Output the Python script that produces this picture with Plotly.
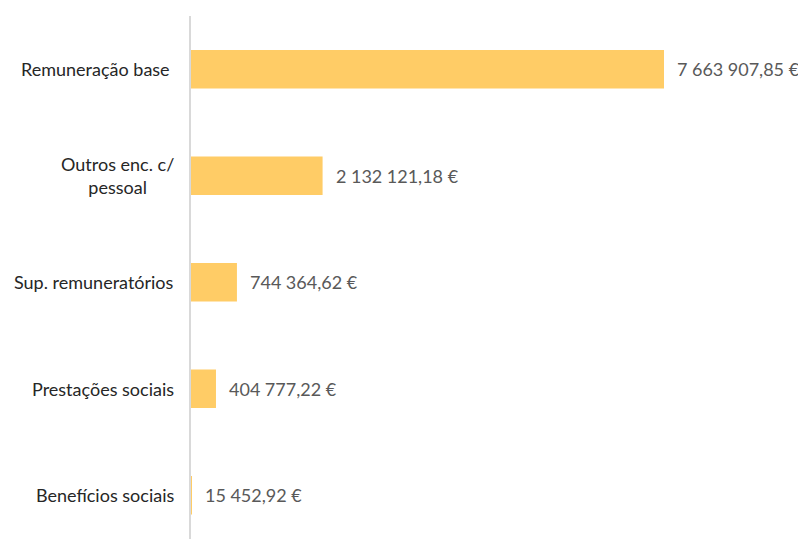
import plotly.graph_objects as go

# Personnel expense categories (top to bottom) and amounts in euros
categories = ["Remuneração base\u00a0", "Outros enc. c/<br>pessoal", "Sup. remuneratórios",
              "Prestações sociais", "Benefícios sociais"]
values = [7663907.85, 2132121.18, 744364.62, 404777.22, 15452.92]


def eur(v):
    whole, dec = f"{v:,.2f}".split(".")
    return whole.replace(",", "\u202f") + "," + dec + " €"


W, H = 798, 539
left, top = 191, 16
band = 106.5  # pixel height of one category band
plot_h = H - top
plot_w = W - left
x_max = values[0] * plot_w / 473.0

fig = go.Figure(go.Bar(
    x=values,
    y=list(range(len(categories))),
    orientation="h",
    marker=dict(color="#FFCC66", line=dict(width=0)),
    width=0.36,
    hoverinfo="skip",
))

annotations = []
for i, (c, v) in enumerate(zip(categories, values)):
    # category label, lines centred within the label block
    annotations.append(dict(
        x=0, xref="paper", y=i, yref="y", text=c, showarrow=False,
        xanchor="right", yanchor="middle", align="center", xshift=-15,
        font=dict(family="Lato", size=18, color="#262626"),
    ))
    # amount label just past the end of the bar
    annotations.append(dict(
        x=v, xref="x", y=i, yref="y", text=eur(v), showarrow=False,
        xanchor="left", yanchor="middle", xshift=11,
        font=dict(family="Lato", size=18, color="#595959"),
    ))

fig.update_layout(
    width=W, height=H,
    margin=dict(l=left, r=0, t=top, b=0),
    paper_bgcolor="white", plot_bgcolor="white",
    showlegend=False,
    annotations=annotations,
    xaxis=dict(range=[0, x_max], visible=False, fixedrange=True),
    yaxis=dict(
        range=[-0.5 + plot_h / band, -0.5],
        showticklabels=False, showgrid=False, zeroline=False,
        showline=True, linecolor="#D9D9D9", linewidth=2, ticks="",
        fixedrange=True,
    ),
)

fig.write_html("out.html")
